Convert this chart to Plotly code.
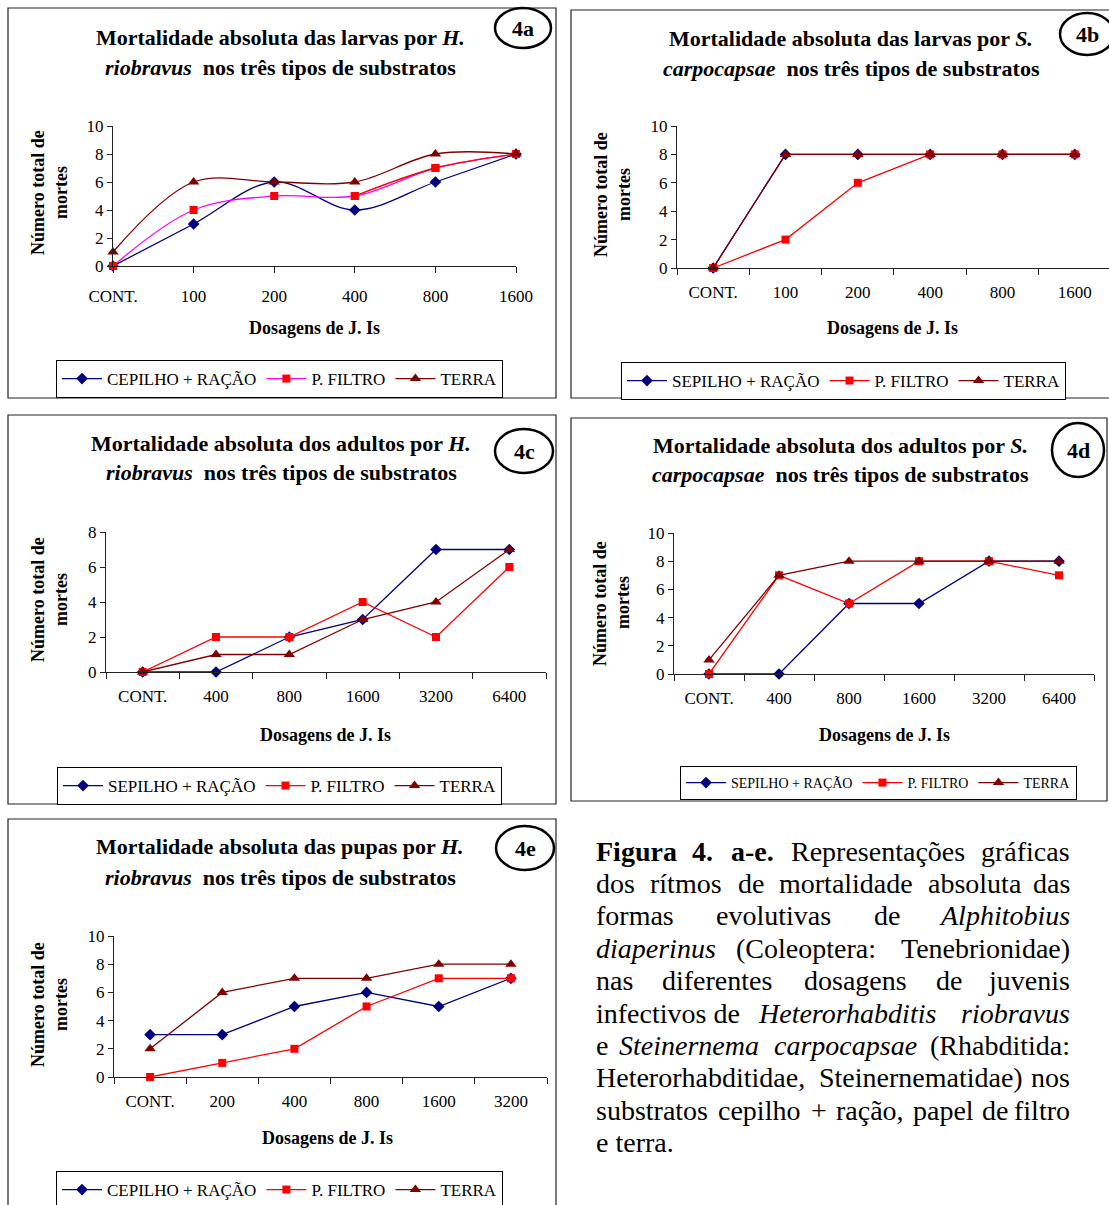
import plotly.graph_objects as go

W, H = 1109, 1205
SERIF = "Liberation Serif"

# ---------------- data ----------------
CAT_A = ["CONT.", "100", "200", "400", "800", "1600"]
CAT_B = ["CONT.", "100", "200", "400", "800", "1600"]
CAT_C = ["CONT.", "400", "800", "1600", "3200", "6400"]
CAT_D = ["CONT.", "400", "800", "1600", "3200", "6400"]
CAT_E = ["CONT.", "200", "400", "800", "1600", "3200"]

A_CEP = [0, 3, 6, 4, 6, 8]
A_PF = [0, 4, 5, 5, 7, 8]
A_TER = [1, 6, 6, 6, 8, 8]

B_SEP = [0, 8, 8, 8, 8, 8]
B_PF = [0, 2, 6, 8, 8, 8]
B_TER = [0, 8, 8, 8, 8, 8]

C_SEP = [0, 0, 2, 3, 7, 7]
C_PF = [0, 2, 2, 4, 2, 6]
C_TER = [0, 1, 1, 3, 4, 7]

D_SEP = [0, 0, 5, 5, 8, 8]
D_PF = [0, 7, 5, 8, 8, 7]
D_TER = [1, 7, 8, 8, 8, 8]

E_CEP = [3, 3, 5, 6, 5, 7]
E_PF = [0, 1, 2, 5, 7, 7]
E_TER = [2, 6, 7, 7, 8, 8]

NAME_CEP = "CEPILHO + RAÇÃO"
NAME_SEP = "SEPILHO + RAÇÃO"
NAME_PF = "P. FILTRO"
NAME_TER = "TERRA"


def px(x):
    return x / W


def py(y):
    return 1 - y / H


NAVY, RED, MAG, DRED = "#000080", "#FF0000", "#FF00FF", "#800000"

panels = [
    dict(key="", cats=CAT_A, series=[(NAME_CEP, A_CEP), (NAME_PF, A_PF), (NAME_TER, A_TER)],
         smooth=True, pf_line=MAG, xd=(113, 516), yd=(126, 266), xr=[0, 5], tickson="labels",
         ymax=10, frame=(8, 8, 556, 398),
         t1="Mortalidade absoluta das larvas por <i>H.</i>",
         t2="<i>riobravus</i>\u00a0 nos três tipos de substratos", tx=280, ty=(37, 67),
         circ=(523, 28, 28, 20), lab="4a",
         xt=(315, 328), yt=(38, 61, 193), leg=(56, 360), legfont=17),
    dict(key="2", cats=CAT_B, series=[(NAME_SEP, B_SEP), (NAME_PF, B_PF), (NAME_TER, B_TER)],
         smooth=False, pf_line=RED, xd=(677, 1109), yd=(126, 268), xr=[-0.5, 5.473], tickson="boundaries",
         ymax=10, frame=(571, 10, 1130, 398),
         t1="Mortalidade absoluta das larvas por <i>S.</i>",
         t2="<i>carpocapsae</i>\u00a0 nos três tipos de substratos", tx=851, ty=(38, 68),
         circ=(1087, 34, 27, 21), lab="4b",
         xt=(892, 328), yt=(601, 624, 195), leg=(621, 362), legfont=17),
    dict(key="3", cats=CAT_C, series=[(NAME_SEP, C_SEP), (NAME_PF, C_PF), (NAME_TER, C_TER)],
         smooth=False, pf_line=RED, xd=(106, 546), yd=(532, 672), xr=[-0.5, 5.5], tickson="boundaries",
         ymax=8, frame=(8, 415, 556, 804),
         t1="Mortalidade absoluta dos adultos por <i>H.</i>",
         t2="<i>riobravus</i>\u00a0 nos três tipos de substratos", tx=281, ty=(443, 473),
         circ=(524, 451, 29, 22), lab="4c",
         xt=(325, 735), yt=(38, 61, 600), leg=(57, 767), legfont=17),
    dict(key="4", cats=CAT_D, series=[(NAME_SEP, D_SEP), (NAME_PF, D_PF), (NAME_TER, D_TER)],
         smooth=False, pf_line=RED, xd=(674, 1094), yd=(533, 674), xr=[-0.5, 5.5], tickson="boundaries",
         ymax=10, frame=(571, 418, 1107, 801),
         t1="Mortalidade absoluta dos adultos por <i>S.</i>",
         t2="<i>carpocapsae</i>\u00a0 nos três tipos de substratos", tx=840, ty=(445, 475),
         circ=(1078, 450, 26, 27), lab="4d",
         xt=(884, 735), yt=(600, 623, 603), leg=(680, 766), legfont=14),
    dict(key="5", cats=CAT_E, series=[(NAME_CEP, E_CEP), (NAME_PF, E_PF), (NAME_TER, E_TER)],
         smooth=False, pf_line=RED, xd=(114, 547), yd=(936, 1077), xr=[-0.5, 5.5], tickson="boundaries",
         ymax=10, frame=(8, 819, 556, 1230),
         t1="Mortalidade absoluta das pupas por <i>H.</i>",
         t2="<i>riobravus</i>\u00a0 nos três tipos de substratos", tx=280, ty=(847, 877),
         circ=(525, 848, 29, 22), lab="4e",
         xt=(327, 1138), yt=(38, 61, 1005), leg=(56, 1171), legfont=17),
]

fig = go.Figure()
shapes = []
annotations = []
layout = dict(width=W, height=H, margin=dict(l=0, r=0, t=0, b=0, pad=0, autoexpand=False),
              paper_bgcolor="white", plot_bgcolor="white", showlegend=True)

styles = [
    dict(color=NAVY, symbol="diamond", size=9),
    dict(color=RED, symbol="square", size=8),
    dict(color=DRED, symbol="triangle-up", size=10),
]

for p in panels:
    k = p["key"]
    xa, ya = "x" + k, "y" + k
    leg = "legend" + k
    for i, (name, vals) in enumerate(p["series"]):
        st = styles[i]
        lc = p["pf_line"] if i == 1 else st["color"]
        fig.add_trace(go.Scatter(
            x=p["cats"], y=vals, name=name, mode="lines+markers",
            xaxis=xa, yaxis=ya, legend=leg, cliponaxis=False,
            line=dict(color=lc, width=1.3, shape="spline" if p["smooth"] else "linear", smoothing=1.0),
            marker=dict(color=st["color"], symbol=st["symbol"], size=st["size"], line=dict(width=0)),
        ))
        if k == "" and i == 1:
            # red-coloured latter part of the P. FILTRO curve in 4a
            fig.add_trace(go.Scatter(
                x=p["cats"][3:], y=vals[3:], mode="lines+markers", showlegend=False,
                xaxis=xa, yaxis=ya, legend=leg, cliponaxis=False,
                line=dict(color=RED, width=1.3, shape="spline", smoothing=1.0),
                marker=dict(color=RED, symbol="square", size=8, line=dict(width=0)),
            ))
    # axes
    layout["xaxis" + k] = dict(
        type="category", categoryorder="array", categoryarray=p["cats"],
        domain=[px(p["xd"][0]), min(1, px(p["xd"][1]))], range=p["xr"], anchor=ya,
        showline=True, linecolor="#222", linewidth=1, ticks="outside", ticklen=6,
        tickcolor="#222", tickson=p["tickson"], ticklabelstandoff=9, automargin=False,
        tickfont=dict(family=SERIF, size=17, color="black"),
        showgrid=False, zeroline=False, fixedrange=True)
    layout["yaxis" + k] = dict(
        domain=[py(p["yd"][1]), py(p["yd"][0])], range=[0, p["ymax"]], dtick=2, anchor=xa,
        showline=True, linecolor="#222", linewidth=1, ticks="outside", ticklen=5, automargin=False,
        tickcolor="#222", tickfont=dict(family=SERIF, size=17, color="black"),
        showgrid=False, zeroline=False, fixedrange=True)
    # legend
    layout[leg] = dict(
        x=px(p["leg"][0]), y=py(p["leg"][1]), xanchor="left", yanchor="top",
        orientation="h", bgcolor="white", bordercolor="black", borderwidth=1,
        font=dict(family=SERIF, size=p["legfont"], color="black"),
        itemwidth=40, traceorder="normal")
    # frame
    f = p["frame"]
    shapes.append(dict(type="rect", xref="paper", yref="paper",
                       x0=px(f[0]), x1=px(f[2]), y0=py(f[3]), y1=py(f[1]),
                       line=dict(color="#222", width=1.2), layer="below"))
    # circle label
    cx, cy, rx, ry = p["circ"]
    shapes.append(dict(type="circle", xref="paper", yref="paper",
                       x0=px(cx - rx), x1=px(cx + rx), y0=py(cy + ry), y1=py(cy - ry),
                       line=dict(color="black", width=2.5)))
    annotations.append(dict(text="<b>%s</b>" % p["lab"], x=px(cx), y=py(cy), xref="paper", yref="paper",
                            showarrow=False, xanchor="center", yanchor="middle",
                            font=dict(family=SERIF, size=22, color="black")))
    # titles
    for txt, yy in ((p["t1"], p["ty"][0]), (p["t2"], p["ty"][1])):
        annotations.append(dict(text="<b>%s</b>" % txt, x=px(p["tx"]), y=py(yy), xref="paper", yref="paper",
                                showarrow=False, xanchor="center", yanchor="middle",
                                font=dict(family=SERIF, size=22, color="black")))
    # x axis title
    annotations.append(dict(text="<b>Dosagens de J. Is</b>", x=px(p["xt"][0]), y=py(p["xt"][1]),
                            xref="paper", yref="paper", showarrow=False, xanchor="center", yanchor="middle",
                            font=dict(family=SERIF, size=18, color="black")))
    # y axis title (two lines)
    for txt, xx in (("Número total de", p["yt"][0]), ("mortes", p["yt"][1])):
        annotations.append(dict(text="<b>%s</b>" % txt, x=px(xx), y=py(p["yt"][2]), textangle=-90,
                                xref="paper", yref="paper", showarrow=False,
                                xanchor="center", yanchor="middle",
                                font=dict(family=SERIF, size=18, color="black")))

# ---------------- caption (justified by word placement) ----------------
CAP_LEFT, CAP_RIGHT = 593.5, 1071.7
caption_lines = [
    [("<b>Figura</b>", 593.6), ("<b>4.</b>", 690.2), ("<b>a-e.</b>", 729.2), ("Representações", 788.5), ("gráficas", None)],
    [("dos", 593.6), ("rítmos", 647.8), ("de", 736.0), ("mortalidade", 776.7), ("absoluta", 925.9), ("das", None)],
    [("formas", 593.6), ("evolutivas", 713.9), ("de", 871.6), ("<i>Alphitobius</i>", None)],
    [("<i>diaperinus</i>", 593.6), ("(Coleoptera:", 734.3), ("Tenebrionidae)", None)],
    [("nas", 593.6), ("diferentes", 659.7), ("dosagens", 802.1), ("de", 934.4), ("juvenis", None)],
    [("infectivos de", 593.6), ("<i>Heterorhabditis</i>", 756.3), ("<i>riobravus</i>", None)],
    [("e", 593.6), ("<i>Steinernema</i>", 617.3), ("<i>carpocapsae</i>", 771.6), ("(Rhabditida:", None)],
    [("Heterorhabditidae,", 593.6), ("Steinernematidae)", 817.4), ("nos", None)],
    [("substratos", 593.6), ("cepilho", 715.6), ("+", 808.9), ("ração,", 834.3), ("papel", 910.6), ("de", 980.1), ("filtro", None)],
    [("e terra.", 593.6)],
]
for li, words in enumerate(caption_lines):
    yy = 851 + li * 32.4
    for txt, xx in words:
        if xx is None:
            annotations.append(dict(text=txt, x=px(CAP_RIGHT), y=py(yy), xref="paper", yref="paper",
                                    showarrow=False, xanchor="right", yanchor="middle",
                                    font=dict(family=SERIF, size=28, color="black")))
        else:
            annotations.append(dict(text=txt, x=px(xx), y=py(yy), xref="paper", yref="paper",
                                    showarrow=False, xanchor="left", yanchor="middle",
                                    font=dict(family=SERIF, size=28, color="black")))

layout["shapes"] = shapes
layout["annotations"] = annotations
fig.update_layout(**layout)
fig.write_html("out.html", config={"displayModeBar": False},
               post_script="document.body.style.margin='0px';")
